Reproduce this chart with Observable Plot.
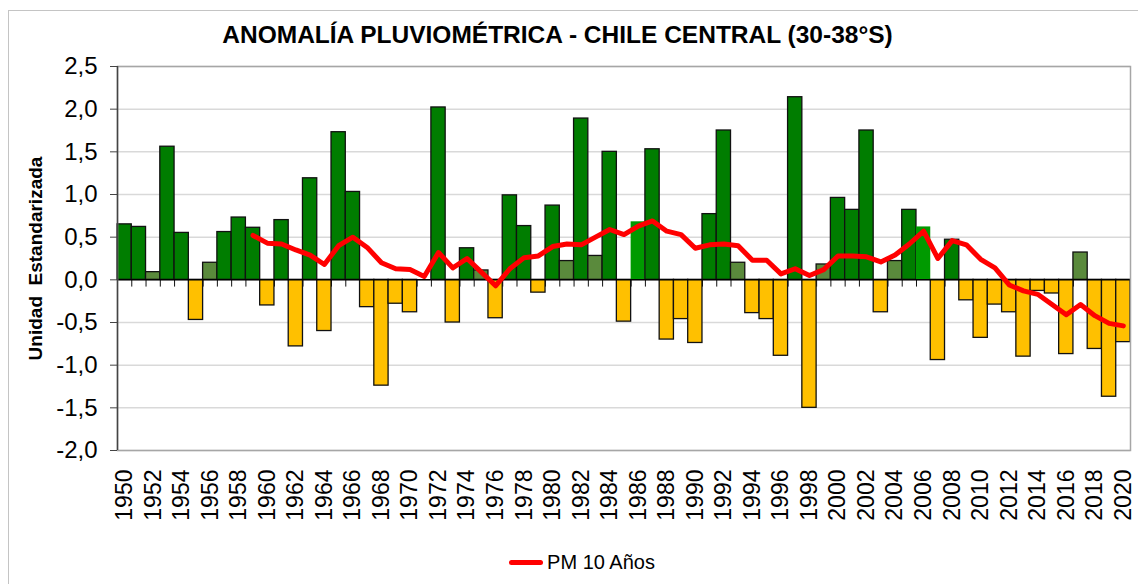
<!DOCTYPE html>
<html>
<head>
<meta charset="utf-8">
<script src="https://cdn.jsdelivr.net/npm/d3@7"></script>
<script src="https://cdn.jsdelivr.net/npm/@observablehq/plot@0.6"></script>
<style>
  html, body { margin: 0; padding: 0; background: #fff; }
  #wrap { position: relative; width: 1138px; height: 584px; overflow: hidden; font-family: "Liberation Sans", Arial, sans-serif; }
  #outer { position: absolute; left: 8px; top: 10px; width: 1200px; height: 700px; border-top: 1.5px solid #c4c4c4; border-left: 1.5px solid #c4c4c4; pointer-events: none; }
  #title { height: 30px; padding-top: 20px; line-height: 30px; width: 1115px; text-align: center; font-weight: bold; font-size: 24.5px; color: #000; }
  #chart svg { display: block; }
  #legend { height: 44px; line-height: 44px; width: 1138px; text-align: center; font-size: 20px; color: #000; padding-left: 26px; box-sizing: border-box; }
  #legend .sw { display: inline-block; width: 34px; height: 5px; background: #ff0000; border-radius: 3px; vertical-align: middle; margin-right: 4px; position: relative; top: -1px; }
</style>
</head>
<body>
<div id="wrap">
  <div id="outer"></div>
  <div id="title">ANOMALÍA PLUVIOMÉTRICA - CHILE CENTRAL (30-38°S)</div>
  <div id="chart"></div>
  <div id="legend"><span class="sw"></span>PM 10 Años</div>
</div>
<script>
// ---- Data ----
const years = d3.range(1950, 2021);
const anomalies = [
  0.65, 0.62, 0.09, 1.56, 0.55, -0.47, 0.20, 0.56, 0.73, 0.61,   // 1950-1959
  -0.30, 0.70, -0.78, 1.19, -0.60, 1.73, 1.03, -0.32, -1.24, -0.28, // 1960-1969
  -0.38, 0.00, 2.02, -0.50, 0.37, 0.11, -0.45, 0.99, 0.63, -0.15,  // 1970-1979
  0.87, 0.22, 1.89, 0.28, 1.50, -0.49, 0.68, 1.53, -0.70, -0.46,   // 1980-1989
  -0.74, 0.77, 1.75, 0.20, -0.39, -0.46, -0.89, 2.14, -1.50, 0.18, // 1990-1999
  0.96, 0.82, 1.75, -0.38, 0.22, 0.82, 0.62, -0.94, 0.47, -0.24,   // 2000-2009
  -0.68, -0.29, -0.38, -0.90, -0.13, -0.16, -0.87, 0.32, -0.81, -1.37, // 2010-2019
  -0.73                                                             // 2020
];
const oliveYears = [1952, 1956, 1975, 1981, 1983, 1993, 1999, 2004, 2017];
const lightYears = [1986, 2006];

const pmYears = d3.range(1959, 2021);
const pmValues = [
  0.52,                                                   // 1959
  0.43, 0.42, 0.35, 0.29, 0.18, 0.40, 0.50, 0.38, 0.20, 0.13, // 1960-1969
  0.12, 0.04, 0.32, 0.14, 0.25, 0.09, -0.07, 0.13, 0.26, 0.28, // 1970-1979
  0.39, 0.42, 0.41, 0.50, 0.59, 0.53, 0.63, 0.69, 0.57, 0.53, // 1980-1989
  0.37, 0.41, 0.42, 0.40, 0.23, 0.23, 0.07, 0.13, 0.05, 0.12, // 1990-1999
  0.28, 0.28, 0.27, 0.21, 0.29, 0.42, 0.57, 0.25, 0.46, 0.41, // 2000-2009
  0.24, 0.14, -0.06, -0.13, -0.17, -0.29, -0.41, -0.29, -0.42, -0.51, // 2010-2019
  -0.54                                                   // 2020
];

const xTickYears = d3.range(1950, 2021, 2);
const yTicks = [-2.0, -1.5, -1.0, -0.5, 0, 0.5, 1.0, 1.5, 2.0, 2.5];
const yTitle = "Unidad\u00a0 Estandarizada";

// ---- Tables ----
const bars = years.map((y, i) => ({year: y, value: anomalies[i]}));
const pm = pmYears.map((y, i) => ({year: y, value: pmValues[i]}));
const boundaries = years.slice(0, -1).map(y => y + 0.5);
const xDomain = [years[0] - 0.5, years[years.length - 1] + 0.5];

const fillOf = d => {
  if (d.value < 0) return "#ffc000";
  if (lightYears.includes(d.year)) return "#009a00";
  if (oliveYears.includes(d.year)) return "#5a8a3c";
  return "#007d00";
};
const strokeOf = d => lightYears.includes(d.year) ? "none" : "#111";

const fmt = d => d.toFixed(1).replace(".", ",");

const chart = Plot.plot({
  width: 1138,
  height: 490,
  marginLeft: 117,
  marginRight: 8,
  marginTop: 16,
  marginBottom: 90,
  style: {fontFamily: "'Liberation Sans', Arial, sans-serif", color: "#000", background: "#fff"},
  x: {type: "linear", domain: xDomain},
  y: {domain: [-2, 2.5]},
  marks: [
    Plot.ruleY(yTicks, {stroke: "#d9d9d9", strokeWidth: 1.5}),
    Plot.ruleX(boundaries, {y1: 0, y2: -0.085, stroke: "#111", strokeWidth: 1}),
    Plot.rectY(bars, {
      x1: d => d.year - 0.5,
      x2: d => d.year + 0.5,
      y: "value",
      fill: fillOf,
      stroke: strokeOf,
      strokeWidth: 1.3
    }),
    Plot.ruleY([0], {stroke: "#000", strokeWidth: 1.5}),
    Plot.frame({stroke: "#a6a6a6", strokeWidth: 1.5}),
    Plot.ruleX([xDomain[0]], {stroke: "#444", strokeWidth: 1.5}),
    Plot.line(pm, {x: "year", y: "value", stroke: "#ff0000", strokeWidth: 5, strokeLinejoin: "round", strokeLinecap: "round"}),
    Plot.axisY({ticks: yTicks, tickFormat: fmt, tickSize: 7, tickPadding: 13, fontSize: 24, label: null, stroke: "#444"}),
    Plot.axisX({ticks: xTickYears, tickFormat: d => String(d), tickRotate: -90, tickSize: 0, tickPadding: 19, fontSize: 23, label: null}),
    Plot.text([yTitle], {frameAnchor: "left", text: d => d, rotate: -90, dx: -82, fontWeight: "bold", fontSize: 19, textAnchor: "middle"})
  ]
});
document.getElementById("chart").appendChild(chart);
</script>
</body>
</html>
